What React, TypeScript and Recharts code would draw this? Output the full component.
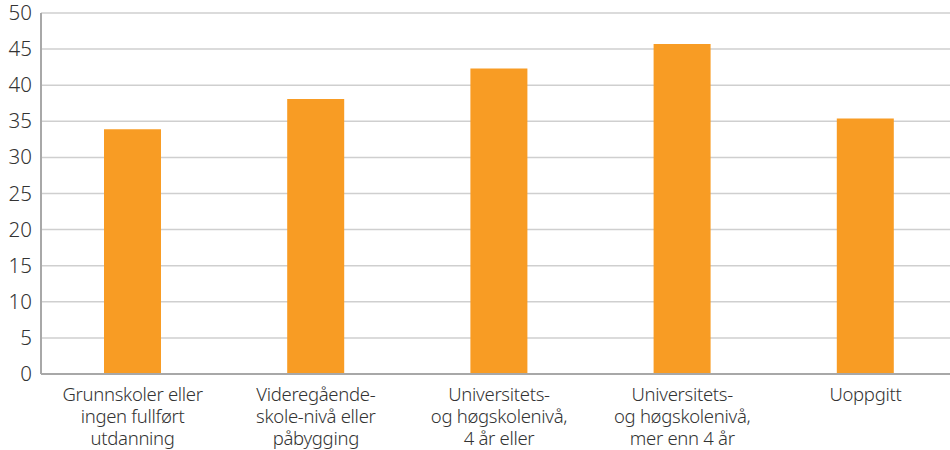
import { Bar, BarChart, CartesianGrid, XAxis, YAxis } from "recharts";

const categories = [
  "Grunnskoler eller\ningen fullført\nutdanning",
  "Videregående-\nskole-nivå eller\npåbygging",
  "Universitets-\nog høgskolenivå,\n4 år eller",
  "Universitets-\nog høgskolenivå,\nmer enn 4 år",
  "Uoppgitt",
];
const values = [33.9, 38.1, 42.3, 45.7, 35.4];
const yTicks = [0, 5, 10, 15, 20, 25, 30, 35, 40, 45, 50];

const chartData = categories.map((name, index) => ({ name, value: values[index] }));

const FONT = "'Noto Sans', 'DejaVu Sans', sans-serif";

function renderXTick(props: any) {
  const { x, y, payload } = props;
  const lines = String(payload.value).split("\n");
  return (
    <text
      x={x}
      y={y}
      textAnchor="middle"
      fill="#333"
      fontSize={18.5}
      fontFamily={FONT}
      fontWeight={300}
      letterSpacing={-0.3}
    >
      {lines.map((line, i) => (
        <tspan key={i} x={x} dy={i === 0 ? 19 : 22}>
          {line}
        </tspan>
      ))}
    </text>
  );
}

function renderYTick(props: any) {
  const { x, y, payload } = props;
  return (
    <text
      x={x - 1}
      y={y}
      dy={7}
      textAnchor="end"
      fill="#333"
      fontSize={20.5}
      fontFamily={FONT}
      fontWeight={300}
    >
      {payload.value}
    </text>
  );
}

export default function App() {
  return (
    <div
      style={{
        position: "absolute",
        left: 0,
        top: 0,
        width: 950,
        height: 450,
        overflow: "hidden",
        background: "#fff",
      }}
    >
      <BarChart
        width={957}
        height={450}
        data={chartData}
        margin={{ top: 13, right: 0, left: 0, bottom: 0 }}
        barSize={57}
      >
        <CartesianGrid stroke="#cfcfcf" strokeWidth={1.5} vertical={false} />
        <XAxis
          dataKey="name"
          height={76}
          interval={0}
          tick={renderXTick}
          tickLine={false}
          axisLine={{ stroke: "#a8a8a8", strokeWidth: 2 }}
        />
        <YAxis
          width={41}
          domain={[0, 50]}
          ticks={yTicks}
          interval={0}
          tick={renderYTick}
          tickLine={false}
          tickMargin={2}
          axisLine={{ stroke: "#a8a8a8", strokeWidth: 2 }}
        />
        <Bar dataKey="value" fill="#f89c24" isAnimationActive={false} />
      </BarChart>
    </div>
  );
}
